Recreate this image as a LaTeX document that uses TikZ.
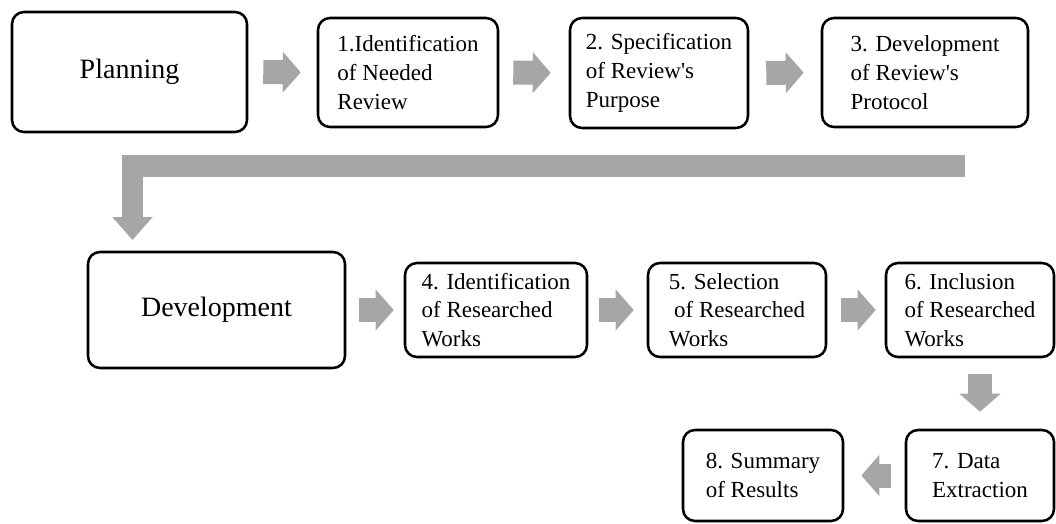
\documentclass[tikz,border=0pt]{standalone}
\usepackage{fontspec}
\setmainfont{Liberation Serif}
\usetikzlibrary{arrows.meta}
\definecolor{arrgray}{HTML}{A6A6A6}
\tikzset{
  stepbox/.style={draw=black, line width=1.9pt, rounded corners=9pt, align=left,
    inner sep=0pt, font={\fontsize{17.25}{21.5}\selectfont}},
  headbox/.style={draw=black, line width=1.9pt, rounded corners=9pt, align=center,
    inner sep=0pt, font={\fontsize{21}{25}\selectfont}},
  blockarrow/.style={draw=arrgray, line width=18pt,
    -{Triangle[length=13.5pt,width=30pt]}},
  bigarrow/.style={draw=arrgray, line width=16pt, miter limit=10, line join=miter,
    -{Triangle[length=17.25pt,width=29.25pt]}}
}
\begin{document}
\begin{tikzpicture}[x=0.75pt,y=-0.75pt]
\useasboundingbox (0,0) rectangle (1056,524);
% row 1
\node[headbox, minimum width=176.25pt, minimum height=90pt] (plan) at (129.5,72) {Planning};
\node[stepbox, minimum width=135pt, minimum height=81.75pt] (b1) at (408,72.5) {1.Identification\\of Needed\\Review};
\node[stepbox, minimum width=133.5pt, minimum height=82.5pt] (b2) at (659,73) {2. Specification\\of Review\textquotesingle s\\Purpose};
\node[stepbox, minimum width=154.5pt, minimum height=81.75pt] (b3) at (925,72.5) {3. Development\\of Review\textquotesingle s\\Protocol};
% row 2
\node[headbox, minimum width=192.75pt, minimum height=87pt] (dev) at (216.5,310) {Development};
\node[stepbox, minimum width=136.5pt, minimum height=70.5pt] (b4) at (496,310) {4. Identification\\of Researched\\Works};
\node[stepbox, minimum width=133.5pt, minimum height=70.5pt] (b5) at (737,310) {5. Selection\\\hspace*{4pt}of Researched\\Works};
\node[stepbox, minimum width=126pt, minimum height=70.5pt] (b6) at (970,310) {6. Inclusion\\of Researched\\Works};
% row 3
\node[stepbox, minimum width=111pt, minimum height=68.25pt] (b7) at (980,475.5) {7. Data\\Extraction};
\node[stepbox, minimum width=120pt, minimum height=68.25pt] (b8) at (763,475.5) {8. Summary\\of Results};
% connectors
\draw[blockarrow, shorten <=11.25pt, shorten >=12pt] (plan.east) -- (b1.west);
\draw[blockarrow, shorten <=10.5pt, shorten >=13.5pt] (b1.east) -- (b2.west);
\draw[blockarrow, shorten <=12.75pt, shorten >=12.75pt] (b2.east) -- (b3.west);
\coordinate (Lstart) at (965,166);
\coordinate (Lend) at (132.5,240);
\draw[bigarrow] (Lstart) -| (Lend);
\draw[blockarrow, shorten <=9.75pt, shorten >=7.5pt] (dev.east) -- (b4.west);
\draw[blockarrow, shorten <=8.25pt, shorten >=9.75pt] (b4.east) -- (b5.west);
\draw[blockarrow, shorten <=10.5pt, shorten >=6.75pt] (b5.east) -- (b6.west);
\draw[blockarrow, shorten <=12pt, shorten >=12.75pt] (b7.north |- b6.south) -- (b7.north);
\draw[blockarrow, shorten <=10.5pt, shorten >=12.75pt] (b7.west) -- (b8.east);
\end{tikzpicture}
\end{document}
